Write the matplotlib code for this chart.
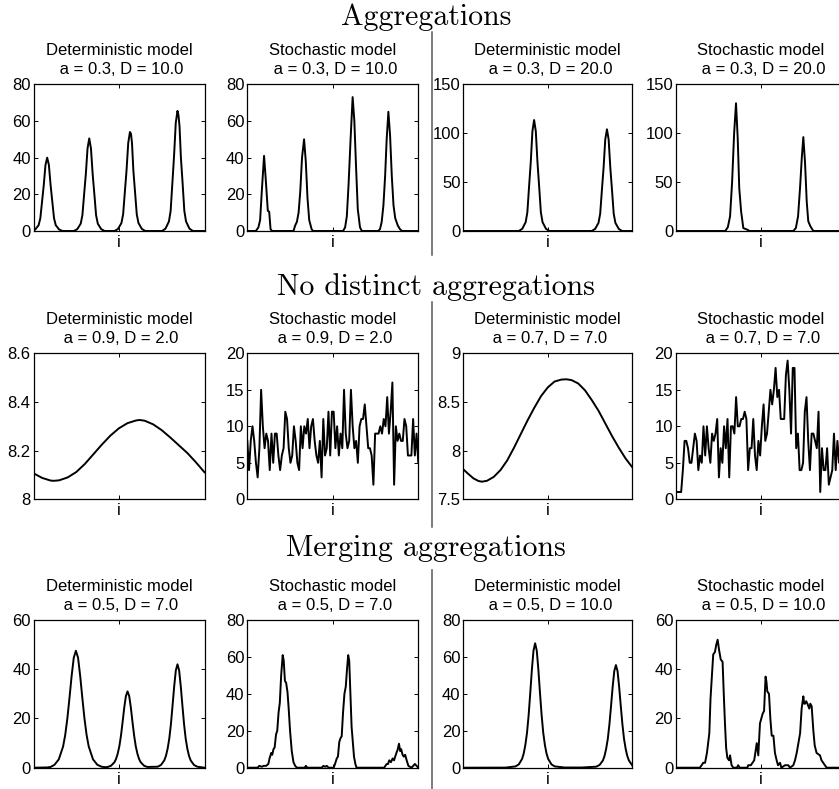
import numpy as np
import matplotlib
matplotlib.use("Agg")
import matplotlib.pyplot as plt
from matplotlib.lines import Line2D
from matplotlib.ticker import FuncFormatter

plt.rcParams["font.family"] = ["Liberation Sans", "DejaVu Sans"]

W, H = 839, 789

# ---- curves, (position along the domain, density) -------------------------
det_a03_d10 = [
    (0, 0.2), (1, 0.8), (3, 3.2), (4, 7), (5, 16), (6, 25), (7, 36), (8, 40),
    (9, 36), (10, 25), (11, 16), (12, 7), (13, 3.2), (15, 0.8), (17, 0),
    (23.6, 0), (25.6, 1), (27.6, 4), (28.6, 8.6), (29.6, 20), (30.6, 31),
    (31.6, 45), (32.6, 50.5), (33.6, 45), (34.6, 31), (35.6, 20), (36.6, 8.6),
    (37.6, 4), (39.6, 1), (41.6, 0),
    (47.4, 0), (49.4, 1.1), (51.4, 4.3), (52.4, 9), (53.4, 21), (54.4, 33),
    (55.4, 48), (56.4, 54), (57, 53), (57.6, 48), (58.4, 33), (59.4, 21),
    (60.4, 9), (61.4, 4.3), (63.4, 1.1), (65.4, 0),
    (75.2, 0), (77.2, 1.3), (79.2, 5.2), (80.2, 11), (81.2, 26), (82.2, 41),
    (83.2, 59), (84.2, 65.5), (84.8, 63), (85.4, 57), (86.2, 40), (87.2, 26),
    (88.2, 11), (89.2, 5.2), (91.2, 1.3), (93.2, 0), (100, 0),
]
stoch_a03_d10 = [
    (0, 0), (5, 0), (6.5, 2), (7.5, 6), (8.5, 22), (9.8, 41), (10.8, 28),
    (12, 11), (12.8, 10.5), (13.6, 1), (14.5, 0),
    (27, 0), (28, 3), (29, 5), (30, 10), (31, 22), (32, 40), (33.2, 50),
    (34.2, 38), (35.2, 18), (36.2, 6), (37.6, 1), (38.5, 0),
    (56, 0), (57.2, 2), (58.2, 8), (59.2, 25), (60.4, 50), (61.6, 73),
    (62.6, 60), (63.6, 35), (64.6, 12), (65.9, 2), (67, 0),
    (76.5, 0), (77.6, 1), (78.6, 5), (79.6, 14), (80.6, 30), (81.5, 50),
    (82.5, 65), (83.5, 52), (84.5, 30), (85.5, 14), (86.5, 7), (88, 3),
    (89.3, 1), (90.5, 0), (100, 0),
]
det_a03_d20 = [
    (0, 0), (32.9, 0), (34.9, 2.3), (36.9, 9), (37.9, 19), (38.9, 45),
    (39.9, 70), (40.9, 102), (41.9, 113.5), (42.9, 102), (43.9, 70),
    (44.9, 45), (45.9, 19), (46.9, 9), (48.9, 2.3), (50.9, 0),
    (76, 0), (78, 2.1), (80, 8.3), (81, 17.7), (82, 41.6), (83, 64.5),
    (84, 93.6), (85, 104), (86, 93.6), (87, 64.5), (88, 41.6), (89, 17.7),
    (90, 8.3), (92, 2.1), (94, 0), (100, 0),
]
stoch_a03_d20 = [
    (0, 0), (29, 0), (30.5, 4), (31.8, 15), (33, 50), (34.2, 100),
    (35.3, 130.6), (36.3, 95), (37.2, 44), (38.3, 20), (39.6, 3), (41, 2),
    (42.4, 1), (43, 0),
    (69, 0), (70.5, 3), (71.8, 15), (73, 45), (74, 75), (74.9, 96),
    (75.9, 70), (76.9, 30), (77.8, 10), (79, 5), (80.4, 1), (81, 0), (100, 0),
]

det_a09_d2 = [
    (0, 8.107), (5, 8.088), (10, 8.077), (12, 8.076), (15, 8.078),
    (20, 8.090), (25, 8.112), (30, 8.145), (35, 8.185), (40, 8.225),
    (45, 8.262), (50, 8.292), (55, 8.313), (60, 8.324), (62, 8.326),
    (65, 8.323), (70, 8.308), (75, 8.284), (80, 8.254), (85, 8.222),
    (90, 8.190), (95, 8.152), (100, 8.111),
]
stoch_a09_d2 = [
    8, 4, 8, 10, 8, 5, 3, 7, 15, 10, 7, 9, 8, 4, 9, 5, 9, 9, 6, 4,
    6, 7, 12, 11, 7, 5, 6, 10, 8, 5, 4, 10, 7, 10, 9, 11, 7, 10, 11, 8,
    6, 5, 8, 3, 11, 6, 7, 12, 6, 12, 12, 7, 10, 6, 9, 7, 15, 9, 7, 8,
    15, 10, 7, 8, 5, 10, 11, 11, 13, 10, 7, 7, 6, 2, 9, 9, 9, 10, 9, 11,
    10, 14, 9, 12, 16, 2, 10, 8, 9, 8, 8, 11, 10, 6, 6, 6, 11, 6, 9, 5,
]
det_a07_d7 = [
    (0, 7.808), (3, 7.76), (6, 7.715), (9, 7.688), (11, 7.681), (14, 7.69),
    (18, 7.73), (22, 7.80), (26, 7.90), (30, 8.03), (34, 8.17), (38, 8.31),
    (42, 8.44), (46, 8.56), (50, 8.65), (54, 8.71), (58, 8.73), (61, 8.733),
    (64, 8.725), (68, 8.69), (72, 8.62), (76, 8.52), (80, 8.41), (84, 8.28),
    (88, 8.15), (92, 8.03), (96, 7.92), (100, 7.829),
]
stoch_a07_d7 = [
    1, 1, 1, 1, 4, 8, 8, 7, 5, 5, 7, 9, 8, 4, 6, 5, 10, 6, 10, 7,
    5, 9, 8, 9, 11, 3, 7, 5, 10, 7, 11, 3, 10, 10, 9, 14, 10, 10, 11, 11,
    12, 11, 4, 7, 7, 11, 6, 4, 8, 6, 10, 13, 8, 9, 12, 15, 13, 15, 18, 14,
    15, 11, 11, 11, 17, 19, 15, 9, 18, 18, 7, 9, 4, 4, 5, 12, 14, 8, 4, 9,
    9, 8, 7, 12, 1, 7, 4, 4, 7, 2, 3, 4, 9, 4, 8, 5, 8, 6, 7, 5,
]

det_a05_d7 = [
    (0, 0), (8, 0.1), (10, 0.3), (12.3, 1.2), (14.8, 3.4), (17.3, 8.6),
    (18.55, 13.3), (19.8, 20), (21.05, 28.4), (22.3, 37.3), (23.55, 44.7),
    (24.8, 47.5), (26.05, 44.7), (27.3, 37.3), (28.55, 28.4), (29.8, 20),
    (31.05, 13.3), (32.3, 8.6), (34.8, 3.4), (37.3, 1.2), (39.8, 0.4),
    (42, 0.2),
    (43.4, 0.3), (45.35, 0.8), (47.3, 2.2), (48.25, 3.5), (49.2, 5.6),
    (50.2, 8.7), (51.15, 13), (52.1, 18.5), (53.07, 24.4), (54.03, 29.1),
    (55, 31), (55.97, 29.1), (56.93, 24.4), (57.9, 18.5), (58.86, 13),
    (59.8, 8.7), (60.8, 5.6), (61.75, 3.5), (62.7, 2.2), (64.65, 0.8),
    (66.6, 0.3),
    (72.6, 0.4), (74.55, 1.1), (76.5, 3), (77.45, 4.8), (78.4, 7.6),
    (79.4, 11.8), (80.35, 17.6), (81.3, 25.1), (82.27, 33), (83.23, 39.5),
    (84.2, 42), (85.17, 39.5), (86.13, 33), (87.1, 25.1), (88.06, 17.6),
    (89, 11.8), (90, 7.6), (90.95, 4.8), (91.9, 3), (93.85, 1.1),
    (95.8, 0.4), (100, 0),
]
stoch_a05_d7 = [
    (0, 0), (6, 0), (7, 1), (8.5, 0.5), (9.5, 1), (11, 1), (12.3, 2),
    (13, 5), (14, 8), (14.6, 7), (15.3, 10), (16, 11), (16.8, 18),
    (17.5, 20), (18.3, 30), (19, 35), (19.8, 50), (20.7, 61), (21.3, 58),
    (22, 47), (22.7, 46), (23.5, 41), (24.2, 32), (25, 20), (26, 9),
    (27, 3), (28, 1), (29, 0), (33.5, 0), (34.3, 1), (35, 0),
    (43.5, 0), (44.5, 1), (45.5, 0.5), (46.5, 1), (47.5, 0), (50.5, 0),
    (51.3, 2), (52.3, 5), (53, 6), (53.8, 14), (54.5, 16), (55.2, 17),
    (56, 30), (56.8, 40), (57.6, 44), (58.2, 52), (59, 61), (59.6, 58),
    (60.3, 40), (61, 22), (61.7, 14), (62.4, 6), (63.2, 2), (63.9, 0),
    (80, 0), (81.5, 2), (82.3, 2), (83, 4), (84, 3), (85, 5), (85.8, 4),
    (86.5, 6), (87.2, 8), (88, 10), (88.7, 13), (89.4, 9), (90, 10),
    (90.8, 7), (91.5, 6), (92.3, 7), (93.2, 4), (94.2, 1), (96, 0),
    (97, 1), (98, 2), (99, 1), (100, 0),
]
det_a05_d10 = [
    (0, 0), (25, 0.05), (30.9, 0.7), (32.85, 1.8), (34.8, 4.8), (35.75, 7.7),
    (36.7, 12.2), (37.7, 18.9), (38.65, 28.3), (39.6, 40.2), (40.57, 53),
    (41.53, 63.4), (42.5, 67.4), (43.47, 63.4), (44.43, 53), (45.4, 40.2),
    (46.36, 28.3), (47.3, 18.9), (48.3, 12.2), (49.25, 7.7), (50.2, 4.8),
    (52.15, 1.8), (54.1, 0.7), (60, 0.1),
    (70, 0.1), (78.7, 0.55), (80.65, 1.5), (82.6, 3.9), (83.55, 6.3),
    (84.5, 10.1), (85.5, 15.6), (86.45, 23.4), (87.4, 33.2), (88.37, 43.7),
    (89.33, 52.3), (90.3, 55.6), (91.27, 52.3), (92.23, 43.7), (93.2, 33.2),
    (94.16, 23.4), (95.1, 15.6), (96.1, 10.1), (97.05, 6.3), (98, 3.9),
    (100, 1.2),
]
stoch_a05_d10 = [
    (0, 0), (14, 0), (15.1, 1), (16, 2), (17.1, 2), (18.2, 6), (19.6, 14),
    (20.3, 28), (21, 36), (21.9, 46), (22.9, 47), (23.7, 50), (24.5, 52),
    (25.3, 48), (26.3, 44), (27.4, 43), (28.1, 30), (28.8, 18), (29.5, 8),
    (30.2, 4), (31.2, 3), (31.8, 5), (32.7, 1), (33.7, 0), (35.8, 0),
    (36.6, 1), (37.4, 0), (42, 0), (42.5, 1), (44, 1), (45, 2), (46, 3),
    (47.5, 10), (48.4, 5), (49.4, 18), (50.2, 20), (51, 22), (51.8, 23),
    (52.7, 37), (53.2, 35), (53.7, 31), (54.7, 30), (55.5, 20), (56.3, 13),
    (57.3, 13), (58.2, 6), (59.2, 3), (60, 1), (61.2, 2), (62, 0),
    (64.1, 1), (66.1, 1), (67, 0), (69, 1), (70, 3), (71, 6), (72, 10),
    (73, 14), (73.9, 24), (74.9, 29), (75.4, 26), (75.9, 26), (76.6, 27),
    (77.3, 26), (78.4, 24), (79, 26), (79.8, 25), (80.3, 20), (80.8, 15),
    (81.6, 9), (82.7, 6), (84.7, 5), (85.6, 3), (86.6, 2), (88.6, 0),
    (100, 0),
]

sections = ["Aggregations", "No distinct aggregations", "Merging aggregations"]
section_pos = [(426, 25), (436, 295), (426, 556)]   # centre x, baseline y (px)

# row: (kind, a, D, curve, ylim, yticks)
panels = [
    [("Deterministic", 0.3, 10.0, det_a03_d10, (0, 80), [0, 20, 40, 60, 80]),
     ("Stochastic", 0.3, 10.0, stoch_a03_d10, (0, 80), [0, 20, 40, 60, 80]),
     ("Deterministic", 0.3, 20.0, det_a03_d20, (0, 150), [0, 50, 100, 150]),
     ("Stochastic", 0.3, 20.0, stoch_a03_d20, (0, 150), [0, 50, 100, 150])],
    [("Deterministic", 0.9, 2.0, det_a09_d2, (8, 8.6), [8, 8.2, 8.4, 8.6]),
     ("Stochastic", 0.9, 2.0, stoch_a09_d2, (0, 20), [0, 5, 10, 15, 20]),
     ("Deterministic", 0.7, 7.0, det_a07_d7, (7.5, 9), [7.5, 8, 8.5, 9]),
     ("Stochastic", 0.7, 7.0, stoch_a07_d7, (0, 20), [0, 5, 10, 15, 20])],
    [("Deterministic", 0.5, 7.0, det_a05_d7, (0, 60), [0, 20, 40, 60]),
     ("Stochastic", 0.5, 7.0, stoch_a05_d7, (0, 80), [0, 20, 40, 60, 80]),
     ("Deterministic", 0.5, 10.0, det_a05_d10, (0, 80), [0, 20, 40, 60, 80]),
     ("Stochastic", 0.5, 10.0, stoch_a05_d10, (0, 60), [0, 20, 40, 60])],
]

# axes boxes in pixels
col_left = [33.5, 247.3, 463.3, 676]
col_width = [171, 171, 169, 170]
row_top = [84.3, 353.3, 620]
row_height = [146.7, 146, 147.7]
sep_x = 432
sep_span = [(32, 255), (302, 527), (570, 789)]


def px_rect(left, top, width, height):
    return [left / W, 1 - (top + height) / H, width / W, height / H]


def curve_xy(curve):
    if np.ndim(curve[0]) == 0:
        # evenly spaced samples over the lattice
        y = np.asarray(curve, dtype=float)
        x = np.linspace(0, 100, len(y))
        return x, y
    x, y = np.asarray(curve, dtype=float).T
    return x, y


fig = plt.figure(figsize=(W / 100, H / 100), dpi=100)

for r, row in enumerate(panels):
    for c, (kind, a, D, curve, ylim, yticks) in enumerate(row):
        ax = fig.add_axes(px_rect(col_left[c], row_top[r],
                                  col_width[c], row_height[r]))
        x, y = curve_xy(curve)
        ax.plot(x, y, color="black", lw=1.4)
        ax.set_xlim(0, 100)
        ax.set_ylim(*ylim)
        ax.set_yticks(yticks)
        ax.yaxis.set_major_formatter(FuncFormatter(lambda v, p: f"{v:g}"))
        ax.set_xticks([50])
        ax.set_xticklabels(["i"])
        ax.tick_params(direction="in", length=3, width=0.7, top=True,
                       right=True, labelsize=12, pad=2)
        ax.tick_params(axis="x", pad=3)
        for s in ax.spines.values():
            s.set_linewidth(0.9)
        ax.annotate(f"{kind} model\n a = {a}, D = {D}", (0.5, 1.0),
                    xycoords="axes fraction", xytext=(0, 5),
                    textcoords="offset points", ha="center", va="bottom",
                    multialignment="center", linespacing=1.35, fontsize=12)

for (cx, by), name in zip(section_pos, sections):
    fig.text(cx / W, 1 - by / H, name, ha="center", va="baseline",
             fontfamily="cmr10", fontsize=21.5)

for y0, y1 in sep_span:
    fig.add_artist(Line2D([sep_x / W, sep_x / W], [1 - y0 / H, 1 - y1 / H],
                          color="0.35", lw=1.1))

fig.savefig("out.png", dpi=100)
